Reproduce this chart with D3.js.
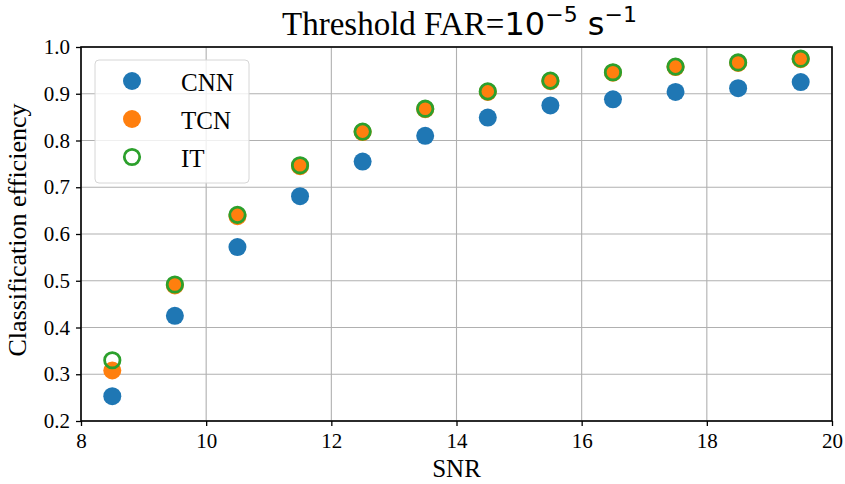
<!DOCTYPE html>
<html>
<head>
<meta charset="utf-8">
<script src="https://cdn.jsdelivr.net/npm/d3@7"></script>
<style>
  body { margin: 0; background: #fff; }
  svg text { font-family: "Liberation Serif", "Times New Roman", serif; }
</style>
</head>
<body>
<div id="chart"></div>
<script>
// data
var snr = [8.5, 9.5, 10.5, 11.5, 12.5, 13.5, 14.5, 15.5, 16.5, 17.5, 18.5, 19.5];
var cnn = [0.253, 0.425, 0.572, 0.681, 0.755, 0.810, 0.849, 0.875, 0.888, 0.904, 0.912, 0.925];
var tcn = [0.308, 0.490, 0.638, 0.745, 0.818, 0.867, 0.904, 0.927, 0.945, 0.957, 0.966, 0.974];
var it  = [0.330, 0.492, 0.641, 0.747, 0.819, 0.868, 0.905, 0.928, 0.946, 0.958, 0.967, 0.975];
var xTicks = [8, 10, 12, 14, 16, 18, 20];
var yTicks = [0.2, 0.3, 0.4, 0.5, 0.6, 0.7, 0.8, 0.9, 1.0];
var seriesNames = ["CNN", "TCN", "IT"];

// set the dimensions and margins of the graph
var W = 845, H = 484;
var margin = { top: 47, right: 13, bottom: 63, left: 81 },
    width = W - margin.left - margin.right,
    height = H - margin.top - margin.bottom;
var serif = "'Liberation Serif', 'Times New Roman', serif";

var svg = d3.select("#chart").append("svg")
    .attr("width", W).attr("height", H);

var g = svg.append("g")
    .attr("transform", "translate(" + margin.left + "," + margin.top + ")");

var x = d3.scaleLinear().domain([8, 20]).range([0, width]);
var y = d3.scaleLinear().domain([0.2, 1.0]).range([height, 0]);

// grid
g.selectAll(".vgrid").data(xTicks).enter().append("line")
    .attr("x1", function (d) { return x(d); }).attr("x2", function (d) { return x(d); })
    .attr("y1", 0).attr("y2", height)
    .style("stroke", "#b0b0b0").style("stroke-width", 1.1);
g.selectAll(".hgrid").data(yTicks).enter().append("line")
    .attr("y1", function (d) { return y(d); }).attr("y2", function (d) { return y(d); })
    .attr("x1", 0).attr("x2", width)
    .style("stroke", "#b0b0b0").style("stroke-width", 1.1);

function styleAxis(a) {
    a.attr("font-family", serif).attr("font-size", 21);
    a.select(".domain").remove();
    a.selectAll(".tick line").attr("stroke", "#000").attr("stroke-width", 1.3);
    a.selectAll(".tick text").attr("fill", "#000")
        .style("font-family", serif).style("font-size", "21px");
}

// axes
g.append("g")
    .attr("transform", "translate(0," + height + ")")
    .call(d3.axisBottom(x).tickValues(xTicks).tickFormat(d3.format("d")).tickSize(5).tickPadding(7))
    .call(styleAxis);
g.append("g")
    .call(d3.axisLeft(y).tickValues(yTicks).tickFormat(d3.format(".1f")).tickSize(5).tickPadding(6))
    .call(styleAxis);

// frame
g.append("rect").attr("x", 0).attr("y", 0).attr("width", width).attr("height", height)
    .style("fill", "none").style("stroke", "#000").style("stroke-width", 1.6);

// points
var colors = { CNN: "#1f77b4", TCN: "#ff7f0e", IT: "#2ca02c" };
g.selectAll(".cnn").data(snr).enter().append("circle")
    .attr("cx", function (d) { return x(d); })
    .attr("cy", function (d, i) { return y(cnn[i]); })
    .attr("r", 9).style("fill", colors.CNN);
g.selectAll(".tcn").data(snr).enter().append("circle")
    .attr("cx", function (d) { return x(d); })
    .attr("cy", function (d, i) { return y(tcn[i]); })
    .attr("r", 9).style("fill", colors.TCN);
g.selectAll(".it").data(snr).enter().append("circle")
    .attr("cx", function (d) { return x(d); })
    .attr("cy", function (d, i) { return y(it[i]); })
    .attr("r", 7.7).style("fill", "none")
    .style("stroke", colors.IT).style("stroke-width", 2.8);

// legend
var lg = svg.append("g").attr("transform", "translate(95,60)");
lg.append("rect").attr("width", 154).attr("height", 123).attr("rx", 4)
    .style("fill", "#fff").style("fill-opacity", 0.8)
    .style("stroke", "#d6d6d6").style("stroke-width", 1);
seriesNames.forEach(function (name, i) {
    var cy = 21 + i * 38;
    if (name == "IT") {
        lg.append("circle").attr("cx", 37).attr("cy", cy).attr("r", 7.7)
            .style("fill", "none").style("stroke", colors.IT).style("stroke-width", 2.8);
    } else {
        lg.append("circle").attr("cx", 37).attr("cy", cy).attr("r", 9).style("fill", colors[name]);
    }
    lg.append("text").attr("x", 86).attr("y", cy + 10).text(name)
        .style("font-size", "25px").style("fill", "#000");
});

// axis labels
svg.append("text").attr("x", margin.left + width / 2).attr("y", 477)
    .attr("text-anchor", "middle").style("font-size", "25px").text("SNR");
svg.append("text")
    .attr("transform", "translate(26," + (margin.top + height / 2 - 4) + ") rotate(-90)")
    .attr("text-anchor", "middle").style("font-size", "26px").text("Classification efficiency");

// title
var title = svg.append("text").attr("x", margin.left + width / 2 + 3).attr("y", 35)
    .attr("text-anchor", "middle").style("font-size", "33px");
title.append("tspan").text("Threshold FAR=");
var mt = "'DejaVu Sans', sans-serif";
title.append("tspan").style("font-family", mt).style("font-size", "32px").text("10");
title.append("tspan").style("font-family", mt).style("font-size", "22px").attr("dy", -13).text("\u22125");
title.append("tspan").style("font-family", mt).style("font-size", "32px").attr("dy", 13).text(" s");
title.append("tspan").style("font-family", mt).style("font-size", "22px").attr("dy", -13).text("\u22121");
</script>
</body>
</html>
